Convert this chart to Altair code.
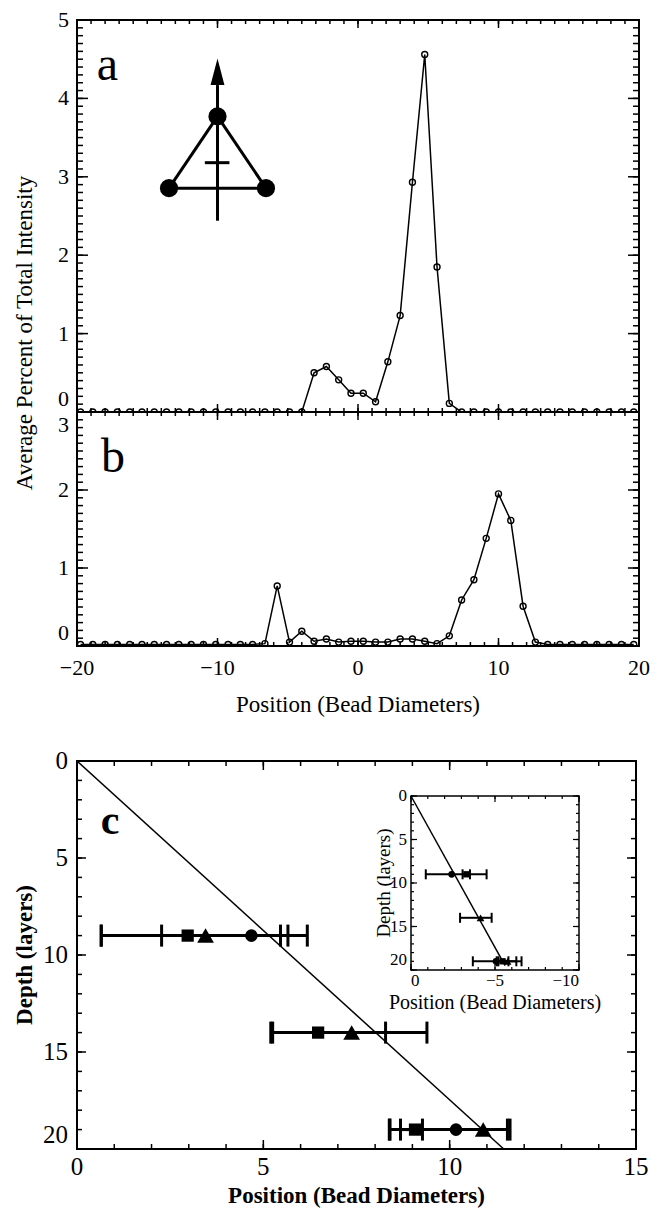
import altair as alt
import pandas as pd

FONT = "Liberation Serif"

# ---------------- panels a and b: intensity profiles ----------------
positions = [-19.75, -18.875, -18.0, -17.125, -16.25, -15.375, -14.5, -13.625,
             -12.75, -11.875, -11.0, -10.125, -9.25, -8.375, -7.5, -6.625,
             -5.75, -4.875, -4.0, -3.125, -2.25, -1.375, -0.5, 0.375,
             1.25, 2.125, 3.0, 3.875, 4.75, 5.625, 6.5, 7.375,
             8.25, 9.125, 10.0, 10.875, 11.75, 12.625, 13.5, 14.375,
             15.25, 16.125, 17.0, 17.875, 18.75, 19.625]
intensity_a = [0, 0, 0, 0, 0, 0, 0, 0,
               0, 0, 0, 0, 0, 0, 0, 0,
               0, 0, 0.0, 0.50, 0.58, 0.41, 0.24, 0.24,
               0.13, 0.64, 1.23, 2.93, 4.56, 1.85, 0.11, 0.0,
               0, 0, 0, 0, 0, 0, 0, 0,
               0, 0, 0, 0, 0, 0]
intensity_b = [0.02, 0.02, 0.02, 0.02, 0.02, 0.02, 0.02, 0.02,
               0.02, 0.02, 0.02, 0.02, 0.02, 0.02, 0.02, 0.03,
               0.77, 0.05, 0.19, 0.06, 0.09, 0.05, 0.06, 0.06,
               0.05, 0.05, 0.09, 0.09, 0.06, 0.03, 0.13, 0.59,
               0.85, 1.38, 1.95, 1.61, 0.51, 0.05, 0.02, 0.02,
               0.02, 0.02, 0.02, 0.02, 0.02, 0.02]

# schematic (three beads, arrow) drawn in panel a's data units
schem_seg_x = [-10.0, -10.0, -13.45, -10.0, -10.9]
schem_seg_y = [3.77, 3.77, 2.855, 2.44, 3.18]
schem_seg_x2 = [-13.45, -6.55, -6.55, -10.0, -9.15]
schem_seg_y2 = [2.855, 2.855, 2.855, 4.17, 3.18]
schem_bead_x = [-10.0, -13.45, -6.55]
schem_bead_y = [3.77, 2.855, 2.855]
schem_arrow_x = [-10.0]
schem_arrow_y = [4.34]

# ---------------- panel c: depth vs position ----------------
sq_depth = [9, 14, 19]
sq_pos = [2.97, 6.47, 9.07]
sq_lo = [0.65, 5.20, 8.68]
sq_hi = [5.46, 8.28, 9.27]
tri_depth = [9, 14, 19]
tri_pos = [3.45, 7.37, 10.90]
tri_lo = [0.65, 5.25, 8.40]
tri_hi = [6.18, 9.39, 11.62]
cir_depth = [9, 19]
cir_pos = [4.68, 10.17]
cir_lo = [2.27, 8.38]
cir_hi = [5.66, 11.55]
fit_pos = [0.0, 11.45]
fit_depth = [0, 20]

# inset of panel c
in_cir_depth = [9, 19]
in_cir_pos = [-2.42, -5.06]
in_cir_lo = [-0.88, -3.68]
in_cir_hi = [-4.50, -6.27]
in_sq_depth = [9, 19]
in_sq_pos = [-3.30, -5.45]
in_sq_lo = [-3.07, -5.10]
in_sq_hi = [-3.51, -5.80]
in_tri_depth = [14, 19]
in_tri_pos = [-4.14, -5.75]
in_tri_lo = [-2.92, -5.20]
in_tri_hi = [-4.80, -6.58]
in_fit_pos = [0.0, -5.6]
in_fit_depth = [0, 19.5]

# ticks and tick labels
ab_x_major = [-20, -10, 0, 10, 20]
ab_x_minor = list(range(-20, 21))
a_y_major = [0, 1, 2, 3, 4, 5]
a_y_minor = [round(i * 0.1, 1) for i in range(0, 51)]
b_y_major = [0, 1, 2, 3]
b_y_minor = [round(i * 0.1, 1) for i in range(0, 31)]
c_x_major = [0, 5, 10, 15]
c_x_minor = list(range(0, 16))
c_y_major = [0, 5, 10, 15, 20]
c_y_minor = list(range(0, 21))
in_x_major = [0, -5, -10]
in_x_minor = list(range(-10, 1))
in_y_major = [0, 5, 10, 15, 20]
in_y_minor = list(range(0, 21))

# ---------------- layout constants ----------------
W_AB, H_A, H_B = 562, 392, 234
W_C, H_C = 559, 388
IN_L, IN_R, IN_T, IN_B = 334, 502, 35, 209


def fmt(v):
    return str(v).replace("-", "\u2212")


def edge_ticks(xs, ys, box, xvals, yvals, xlen, ylen, tw):
    """Inward ticks on the four edges of a box; positions come from the scales."""
    L, R, T, B = box
    xdf = pd.DataFrame({"v": xvals})
    ydf = pd.DataFrame({"v": yvals})
    out = []
    for y0, y1 in [(B, B - xlen), (T, T + xlen)]:
        out.append(alt.Chart(xdf).mark_rule(color="black", strokeWidth=tw).encode(
            x=alt.X("v:Q", scale=xs, axis=None), y=alt.value(y0), y2=alt.value(y1)))
    for x0, x1 in [(L, L + ylen), (R, R - ylen)]:
        out.append(alt.Chart(ydf).mark_rule(color="black", strokeWidth=tw).encode(
            y=alt.Y("v:Q", scale=ys, axis=None), x=alt.value(x0), x2=alt.value(x1)))
    return out


def frame_ticks(xs, ys, box, xmaj, xmin, xlen, ymaj, ymin, ylen, tw=1.5):
    return (edge_ticks(xs, ys, box, xmaj, ymaj, xlen[0], ylen[0], tw)
            + edge_ticks(xs, ys, box, xmin, ymin, xlen[1], ylen[1], tw))


def xlabels(vals, xs, ypx, size, align="center", weight="normal"):
    df = pd.DataFrame({"v": vals, "lab": [fmt(v) for v in vals]})
    return alt.Chart(df).mark_text(font=FONT, fontSize=size, fontWeight=weight, align=align,
                                   baseline="top", color="black").encode(
        x=alt.X("v:Q", scale=xs, axis=None), y=alt.value(ypx), text="lab:N")


def ylabels(vals, ys, xpx, size, baseline="middle", dy=0, weight="normal"):
    df = pd.DataFrame({"v": vals, "lab": [fmt(v) for v in vals]})
    return alt.Chart(df).mark_text(font=FONT, fontSize=size, fontWeight=weight, align="right",
                                   baseline=baseline, dy=dy, color="black").encode(
        y=alt.Y("v:Q", scale=ys, axis=None), x=alt.value(xpx), text="lab:N")


def title_text(txt, xpx, ypx, size, angle=0, weight="normal"):
    df = pd.DataFrame({"t": [txt]})
    return alt.Chart(df).mark_text(font=FONT, fontSize=size, fontWeight=weight, angle=angle,
                                   align="center", baseline="middle", color="black").encode(
        x=alt.value(xpx), y=alt.value(ypx), text="t:N")


def profile_layers(vals, xs, ys):
    df = pd.DataFrame({"pos": positions, "val": vals})
    line = alt.Chart(df).mark_line(color="black", strokeWidth=1.5, clip=True).encode(
        x=alt.X("pos:Q", scale=xs, axis=None), y=alt.Y("val:Q", scale=ys, axis=None))
    pts = alt.Chart(df).mark_point(shape="circle", filled=False, size=36, strokeWidth=1.4,
                                   color="black", opacity=1, clip=True).encode(
        x=alt.X("pos:Q", scale=xs, axis=None), y=alt.Y("val:Q", scale=ys, axis=None))
    return [line, pts]


def letter(txt, x, y, xs, ys, size, weight="normal"):
    df = pd.DataFrame({"x": [x], "y": [y], "t": [txt]})
    return alt.Chart(df).mark_text(font=FONT, fontSize=size, fontWeight=weight,
                                   align="left", baseline="alphabetic", color="black").encode(
        x=alt.X("x:Q", scale=xs, axis=None), y=alt.Y("y:Q", scale=ys, axis=None), text="t:N")


# ---------------- panel a ----------------
xs_ab = alt.Scale(domain=[-20, 20], nice=False, zero=False)
ys_a = alt.Scale(domain=[0, 5], nice=False, zero=False)
ys_b = alt.Scale(domain=[0, 3], nice=False, zero=False)

seg_df = pd.DataFrame({"x": schem_seg_x, "y": schem_seg_y, "x2": schem_seg_x2, "y2": schem_seg_y2})
schem_lines = alt.Chart(seg_df).mark_rule(color="black", strokeWidth=3).encode(
    x=alt.X("x:Q", scale=xs_ab, axis=None), y=alt.Y("y:Q", scale=ys_a, axis=None),
    x2="x2:Q", y2="y2:Q")
bead_df = pd.DataFrame({"x": schem_bead_x, "y": schem_bead_y})
schem_beads = alt.Chart(bead_df).mark_point(shape="circle", filled=True, size=330,
                                            color="black", opacity=1).encode(
    x=alt.X("x:Q", scale=xs_ab, axis=None), y=alt.Y("y:Q", scale=ys_a, axis=None))
arrow_df = pd.DataFrame({"x": schem_arrow_x, "y": schem_arrow_y})
schem_arrow = alt.Chart(arrow_df).mark_point(shape="M0,-1L0.52,1L-0.52,1Z", filled=True,
                                             size=713, color="black", opacity=1).encode(
    x=alt.X("x:Q", scale=xs_ab, axis=None), y=alt.Y("y:Q", scale=ys_a, axis=None))

panel_a = alt.layer(
    *frame_ticks(xs_ab, ys_a, (0, W_AB, 0, H_A), ab_x_major, ab_x_minor, (8, 4),
                 a_y_major, a_y_minor, (11, 6)),
    ylabels([v for v in a_y_major if v != 0], ys_a, -8, 22),
    ylabels([0], ys_a, -8, 22, baseline="bottom", dy=-1),
    title_text("Average Percent of Total Intensity", -52, (H_A + H_B) / 2, 23, angle=270),
    *profile_layers(intensity_a, xs_ab, ys_a),
    schem_lines, schem_beads, schem_arrow,
    letter("a", -18.6, 4.23, xs_ab, ys_a, 48)
).properties(width=W_AB, height=H_A)

# ---------------- panel b ----------------
panel_b = alt.layer(
    *frame_ticks(xs_ab, ys_b, (0, W_AB, 0, H_B), ab_x_major, ab_x_minor, (8, 4),
                 b_y_major, b_y_minor, (11, 6)),
    ylabels([1, 2], ys_b, -8, 22),
    ylabels([3], ys_b, -8, 22, baseline="top", dy=3),
    ylabels([0], ys_b, -8, 22, baseline="bottom", dy=-1),
    xlabels(ab_x_major, xs_ab, H_B + 12, 22),
    title_text("Position (Bead Diameters)", W_AB / 2, H_B + 59, 23),
    *profile_layers(intensity_b, xs_ab, ys_b),
    letter("b", -18.3, 2.23, xs_ab, ys_b, 48)
).properties(width=W_AB, height=H_B)

# ---------------- panel c ----------------
xs_c = alt.Scale(domain=[0, 15], nice=False, zero=False)
ys_c = alt.Scale(domain=[0, 20], nice=False, zero=False, reverse=True)
xs_i = alt.Scale(domain=[0, -10], range=[IN_L, IN_R], nice=False, zero=False)
ys_i = alt.Scale(domain=[0, 20], range=[IN_T, IN_B], nice=False, zero=False)


def series_layers(depth, pos, lo, hi, shape, size, xs, ys, bar_w, cap_size, cap_w):
    df = pd.DataFrame({"depth": depth, "pos": pos, "lo": lo, "hi": hi})
    caps = pd.DataFrame({"depth": depth + depth, "pos": lo + hi})
    bar = alt.Chart(df).mark_rule(color="black", strokeWidth=bar_w).encode(
        x=alt.X("lo:Q", scale=xs, axis=None), x2="hi:Q",
        y=alt.Y("depth:Q", scale=ys, axis=None))
    cap = alt.Chart(caps).mark_tick(orient="vertical", color="black", size=cap_size,
                                    thickness=cap_w, opacity=1).encode(
        x=alt.X("pos:Q", scale=xs, axis=None), y=alt.Y("depth:Q", scale=ys, axis=None))
    mk = alt.Chart(df).mark_point(shape=shape, filled=True, size=size, color="black",
                                  opacity=1).encode(
        x=alt.X("pos:Q", scale=xs, axis=None), y=alt.Y("depth:Q", scale=ys, axis=None))
    return [bar, cap], mk


fit_df = pd.DataFrame({"pos": fit_pos, "depth": fit_depth})
fit_line = alt.Chart(fit_df).mark_line(color="black", strokeWidth=1.5).encode(
    x=alt.X("pos:Q", scale=xs_c, axis=None), y=alt.Y("depth:Q", scale=ys_c, axis=None))

sq_bars, sq_mk = series_layers(sq_depth, sq_pos, sq_lo, sq_hi, "square", 150, xs_c, ys_c, 3, 22, 3)
tri_bars, tri_mk = series_layers(tri_depth, tri_pos, tri_lo, tri_hi, "triangle-up", 280, xs_c, ys_c, 3, 22, 3)
cir_bars, cir_mk = series_layers(cir_depth, cir_pos, cir_lo, cir_hi, "circle", 160, xs_c, ys_c, 3, 22, 3)

main_c = alt.layer(
    *frame_ticks(xs_c, ys_c, (0, W_C, 0, H_C), c_x_major, c_x_minor, (9, 5),
                 c_y_major, c_y_minor, (9, 5)),
    ylabels([0, 5, 10, 15], ys_c, -9, 25),
    ylabels([20], ys_c, -9, 25, baseline="bottom", dy=-1),
    xlabels(c_x_major, xs_c, H_C + 6, 25),
    title_text("Position (Bead Diameters)", W_C / 2, H_C + 47, 23, weight="bold"),
    title_text("Depth (layers)", -52, H_C / 2, 23, angle=270, weight="bold"),
    fit_line, *sq_bars, *tri_bars, *cir_bars, sq_mk, tri_mk, cir_mk,
    letter("c", 0.64, 3.76, xs_c, ys_c, 42, "bold")
)

# inset
box_df = pd.DataFrame({"x": [0], "x2": [-10], "y": [0], "y2": [20]})
in_box = alt.Chart(box_df).mark_rect(fill="white", stroke="black", strokeWidth=1.5).encode(
    x=alt.X("x:Q", scale=xs_i, axis=None), x2="x2:Q",
    y=alt.Y("y:Q", scale=ys_i, axis=None), y2="y2:Q")
in_fit_df = pd.DataFrame({"pos": in_fit_pos, "depth": in_fit_depth})
in_fit = alt.Chart(in_fit_df).mark_line(color="black", strokeWidth=1.5).encode(
    x=alt.X("pos:Q", scale=xs_i, axis=None), y=alt.Y("depth:Q", scale=ys_i, axis=None))
isq_bars, isq_mk = series_layers(in_sq_depth, in_sq_pos, in_sq_lo, in_sq_hi, "square", 40, xs_i, ys_i, 2, 10, 2)
itri_bars, itri_mk = series_layers(in_tri_depth, in_tri_pos, in_tri_lo, in_tri_hi, "triangle-up", 60, xs_i, ys_i, 2, 10, 2)
icir_bars, icir_mk = series_layers(in_cir_depth, in_cir_pos, in_cir_lo, in_cir_hi, "circle", 45, xs_i, ys_i, 2, 10, 2)

inset = alt.layer(
    in_box,
    *frame_ticks(xs_i, ys_i, (IN_L, IN_R, IN_T, IN_B), in_x_major, in_x_minor, (6, 3),
                 in_y_major, in_y_minor, (6, 3), tw=1.2),
    ylabels([0, 5, 10, 15], ys_i, IN_L - 4, 17),
    ylabels([20], ys_i, IN_L - 4, 17, baseline="bottom", dy=-1),
    xlabels([0], xs_i, IN_B + 3, 17, align="left"),
    xlabels([-5], xs_i, IN_B + 3, 17),
    xlabels([-10], xs_i, IN_B + 3, 17, align="right"),
    title_text("Position (Bead Diameters)", (IN_L + IN_R) / 2, IN_B + 33, 20),
    title_text("Depth (layers)", IN_L - 27, (IN_T + IN_B) / 2, 19, angle=270),
    in_fit, *isq_bars, *itri_bars, *icir_bars, isq_mk, itri_mk, icir_mk
)

panel_c = alt.layer(main_c, inset).resolve_scale(
    x="independent", y="independent").properties(width=W_C, height=H_C)

top = alt.vconcat(panel_a, panel_b, spacing=0, bounds="flush")
chart = alt.vconcat(top, panel_c, spacing=30).properties(
    padding={"top": 0, "left": 5, "right": 5, "bottom": 5}
).configure(font=FONT).configure_view(stroke="black", strokeWidth=2)

chart.save("out.html", embed_options={"renderer": "svg", "actions": False})
